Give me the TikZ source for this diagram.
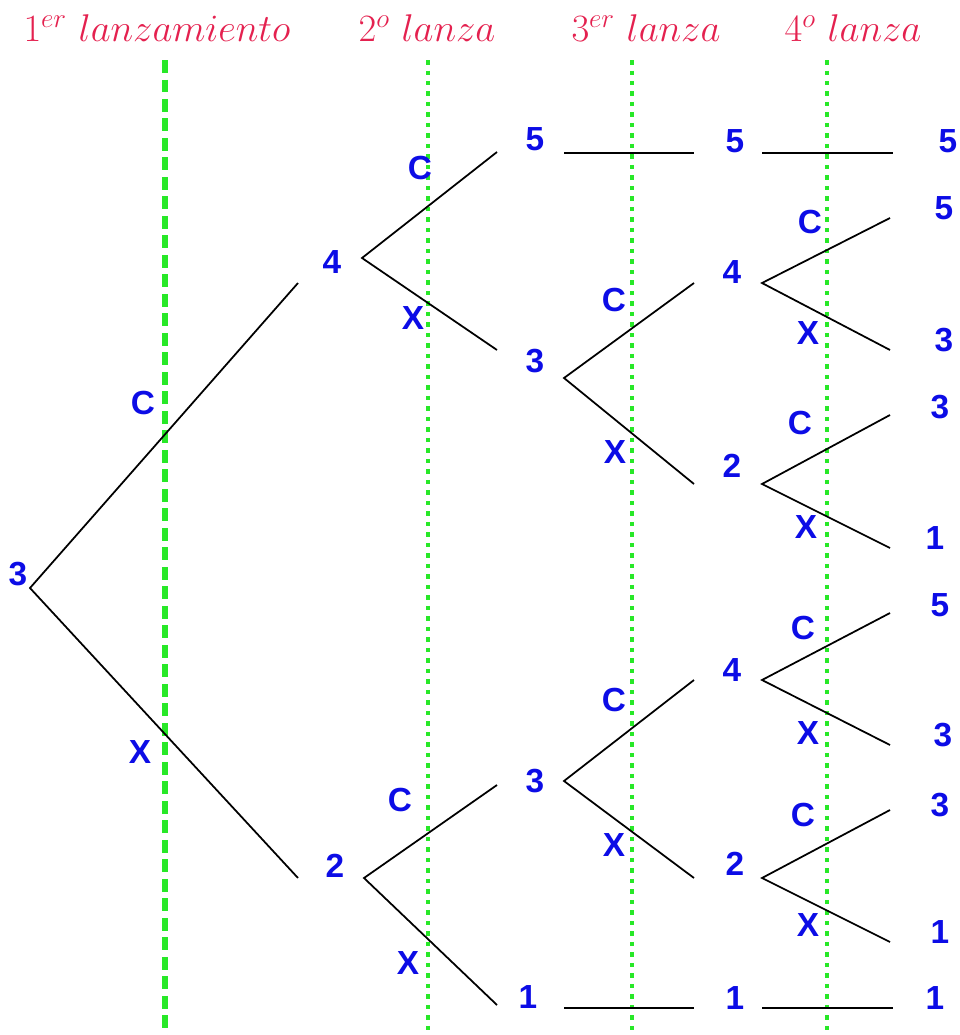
\documentclass[tikz,border=0pt]{standalone}
\usepackage{fix-cm}
\usepackage{fontspec}
\usepackage{tikz}
\usepackage{xcolor}
\newfontfamily\lblfont{Liberation Sans}
\definecolor{treeblue}{HTML}{0C0CE6}
\definecolor{titlered}{HTML}{E4214F}
\definecolor{guidegreen}{HTML}{28E828}

\begin{document}
\begin{tikzpicture}[
  x=0.02cm, y=-0.02cm,
  num/.style={text=treeblue, inner sep=0pt, font=\lblfont\fontsize{19}{22}\selectfont\bfseries},
  side/.style={text=treeblue, inner sep=0pt, font=\lblfont\fontsize{19}{22}\selectfont\bfseries},
  title/.style={text=titlered, inner sep=0pt, font=\fontsize{22}{26}\selectfont},
  branch/.style={draw=black, line width=1pt},
  firstguide/.style={draw=guidegreen, line width=3pt, dash pattern=on 0.26cm off 0.13cm},
  guide/.style={draw=guidegreen, line width=2.4pt, dash pattern=on 0.09cm off 0.12cm}
]
  \useasboundingbox (0,0) rectangle (960,1035);

  % headers
  \node[title] (h1) at (157,28) {$1^{er}\ lanzamiento$};
  \node[title] (h2) at (427,28) {$2^{o}\ lanza$};
  \node[title] (h3) at (646,28) {$3^{er}\ lanza$};
  \node[title] (h4) at (853,28) {$4^{o}\ lanza$};

  % guides
  \draw[firstguide] (165,60) -- (165,1035);
  \draw[guide] (428,60) -- (428,1035);
  \draw[guide] (632,60) -- (632,1035);
  \draw[guide] (827,60) -- (827,1035);

  % level 0
  \node[num] (n0) at (18,574) {3};
  \coordinate (n0o) at (30,588);

  % level 1
  \coordinate (n1ai) at (298,283);
  \node[num] (n1a) at (332,262) {4};
  \coordinate (n1ao) at (362,258);
  \coordinate (n1bi) at (298,878);
  \node[num] (n1b) at (335,866) {2};
  \coordinate (n1bo) at (364,878);

  % level 2
  \coordinate (n2ai) at (497,152);
  \node[num] (n2a) at (535,139) {5};
  \coordinate (n2ao) at (564,153);
  \coordinate (n2bi) at (497,350);
  \node[num] (n2b) at (535,361) {3};
  \coordinate (n2bo) at (564,378);
  \coordinate (n2ci) at (497,785);
  \node[num] (n2c) at (535,781) {3};
  \coordinate (n2co) at (564,781);
  \coordinate (n2di) at (497,1005);
  \node[num] (n2d) at (528,997) {1};
  \coordinate (n2do) at (564,1008);

  % level 3
  \coordinate (n3ai) at (694,153);
  \node[num] (n3a) at (735,141) {5};
  \coordinate (n3ao) at (762,153);
  \coordinate (n3bi) at (694,283);
  \node[num] (n3b) at (732,272) {4};
  \coordinate (n3bo) at (762,283);
  \coordinate (n3ci) at (694,484);
  \node[num] (n3c) at (732,466) {2};
  \coordinate (n3co) at (762,484);
  \coordinate (n3di) at (694,680);
  \node[num] (n3d) at (732,670) {4};
  \coordinate (n3do) at (762,680);
  \coordinate (n3ei) at (694,878);
  \node[num] (n3e) at (735,864) {2};
  \coordinate (n3eo) at (762,878);
  \coordinate (n3fi) at (694,1008);
  \node[num] (n3f) at (735,998) {1};
  \coordinate (n3fo) at (762,1008);

  % level 4
  \coordinate (n4ai) at (893,153);
  \node[num] (n4a) at (948,141) {5};
  \coordinate (n4bi) at (890,218);
  \node[num] (n4b) at (944,208) {5};
  \coordinate (n4ci) at (890,350);
  \node[num] (n4c) at (944,340) {3};
  \coordinate (n4di) at (890,415);
  \node[num] (n4d) at (940,407) {3};
  \coordinate (n4ei) at (890,548);
  \node[num] (n4e) at (935,538) {1};
  \coordinate (n4fi) at (890,613);
  \node[num] (n4f) at (940,605) {5};
  \coordinate (n4gi) at (890,745);
  \node[num] (n4g) at (943,735) {3};
  \coordinate (n4hi) at (890,810);
  \node[num] (n4h) at (940,805) {3};
  \coordinate (n4ii) at (890,942);
  \node[num] (n4i) at (940,932) {1};
  \coordinate (n4ji) at (893,1008);
  \node[num] (n4j) at (935,998) {1};

  % branches
  \draw[branch] (n1ai) -- (n0o) -- (n1bi);
  \draw[branch] (n2ai) -- (n1ao) -- (n2bi);
  \draw[branch] (n2ci) -- (n1bo) -- (n2di);
  \draw[branch] (n2ao) -- (n3ai);
  \draw[branch] (n3bi) -- (n2bo) -- (n3ci);
  \draw[branch] (n3di) -- (n2co) -- (n3ei);
  \draw[branch] (n2do) -- (n3fi);
  \draw[branch] (n3ao) -- (n4ai);
  \draw[branch] (n4bi) -- (n3bo) -- (n4ci);
  \draw[branch] (n4di) -- (n3co) -- (n4ei);
  \draw[branch] (n4fi) -- (n3do) -- (n4gi);
  \draw[branch] (n4hi) -- (n3eo) -- (n4ii);
  \draw[branch] (n3fo) -- (n4ji);

  % C / X marks
  \node[side] (s1c) at (143,403) {C};
  \node[side] (s1x) at (140,752) {X};
  \node[side] (s2c) at (420,168) {C};
  \node[side] (s2x) at (413,318) {X};
  \node[side] (s2cc) at (400,800) {C};
  \node[side] (s2xx) at (408,963) {X};
  \node[side] (s3c) at (614,300) {C};
  \node[side] (s3x) at (615,452) {X};
  \node[side] (s3cc) at (614,700) {C};
  \node[side] (s3xx) at (614,845) {X};
  \node[side] (s4a) at (810,222) {C};
  \node[side] (s4b) at (808,333) {X};
  \node[side] (s4c) at (800,423) {C};
  \node[side] (s4d) at (806,527) {X};
  \node[side] (s4e) at (803,628) {C};
  \node[side] (s4f) at (808,733) {X};
  \node[side] (s4g) at (803,815) {C};
  \node[side] (s4h) at (808,925) {X};
\end{tikzpicture}
\end{document}
